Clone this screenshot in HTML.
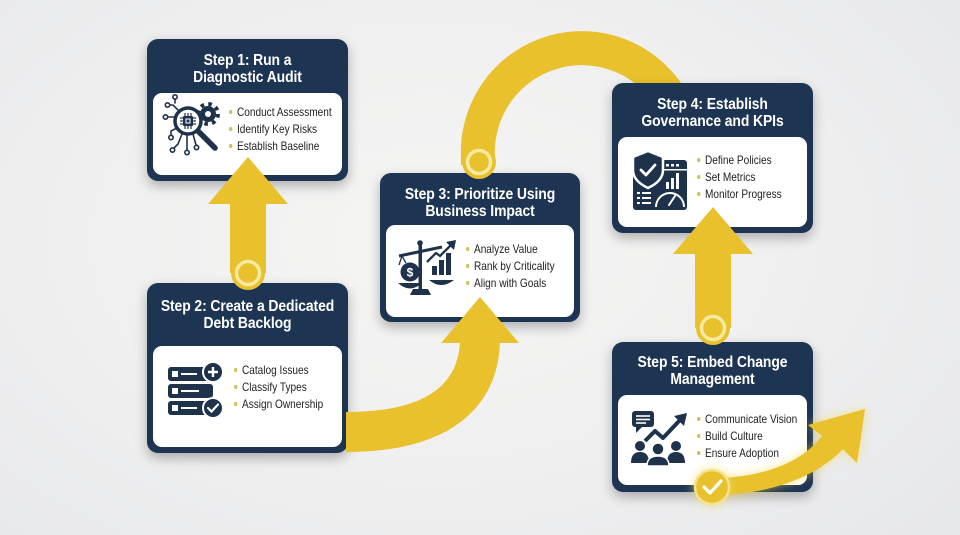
<!DOCTYPE html>
<html><head><meta charset="utf-8"><style>
html,body{margin:0;padding:0}
body{width:960px;height:535px;overflow:hidden;position:relative;font-family:"Liberation Sans",sans-serif;background:radial-gradient(ellipse 70% 80% at 45% 45%, #f5f5f4 0%, #efefef 55%, #e7e8eb 100%);}
.card{position:absolute;background:#1d3553;border-radius:11px;box-shadow:0 5px 12px rgba(0,0,0,0.28);}
.panel{position:absolute;background:#fff;border-radius:9px;}
.t{position:absolute;left:-20px;right:-20px;text-align:center;color:#fff;font-weight:bold;font-size:16px;line-height:16.5px;letter-spacing:-0.1px;transform:scaleX(0.87);transform-origin:50% 0}
.b{position:absolute;font-size:12px;color:#1e1e1e;line-height:17px;white-space:nowrap;transform:scaleX(0.84);transform-origin:0 0}
.b span{display:inline-block;width:3.5px;height:3.5px;border-radius:50%;background:#c9c45a;margin-right:6px;vertical-align:middle;position:relative;top:-1px}
svg{position:absolute;left:0;top:0}
</style></head><body>

<svg width="960" height="535" viewBox="0 0 960 535">
  <path d="M478,165 L478,158 A104,104 0 0 1 674,104" fill="none" stroke="#e8c12c" stroke-width="34"/>
</svg>

<div class="card" style="left:147px;top:39px;width:201px;height:142px">
  <div class="t" style="top:14px">Step 1: Run a<br>Diagnostic Audit</div>
</div>
<div class="panel" style="left:153px;top:93px;width:189px;height:82px"></div>
<div class="b" style="left:229px;top:104px"><span></span>Conduct Assessment<br><span></span>Identify Key Risks<br><span></span>Establish Baseline</div>

<div class="card" style="left:147px;top:283px;width:201px;height:170px">
  <div class="t" style="top:16px">Step 2: Create a Dedicated<br>Debt Backlog</div>
</div>
<div class="panel" style="left:153px;top:346px;width:189px;height:101px"></div>
<div class="b" style="left:234px;top:362px"><span></span>Catalog Issues<br><span></span>Classify Types<br><span></span>Assign Ownership</div>

<div class="card" style="left:380px;top:173px;width:200px;height:149px">
  <div class="t" style="top:14px">Step 3: Prioritize Using<br>Business Impact</div>
</div>
<div class="panel" style="left:386px;top:225px;width:188px;height:92px"></div>
<div class="b" style="left:466px;top:241px"><span></span>Analyze Value<br><span></span>Rank by Criticality<br><span></span>Align with Goals</div>

<div class="card" style="left:612px;top:83px;width:201px;height:150px">
  <div class="t" style="top:14px">Step 4: Establish<br>Governance and KPIs</div>
</div>
<div class="panel" style="left:618px;top:137px;width:189px;height:90px"></div>
<div class="b" style="left:697px;top:152px"><span></span>Define Policies<br><span></span>Set Metrics<br><span></span>Monitor Progress</div>

<div class="card" style="left:612px;top:342px;width:201px;height:150px">
  <div class="t" style="top:13px">Step 5: Embed Change<br>Management</div>
</div>
<div class="panel" style="left:618px;top:395px;width:189px;height:90px"></div>
<div class="b" style="left:697px;top:411px"><span></span>Communicate Vision<br><span></span>Build Culture<br><span></span>Ensure Adoption</div>

<svg width="960" height="535" viewBox="0 0 960 535">
  <defs>
    <filter id="glow" x="-30%" y="-30%" width="160%" height="160%"><feGaussianBlur stdDeviation="5"/></filter>
  </defs>

  <!-- arc start circle -->
  <circle cx="479" cy="162" r="17" fill="#e8c12c"/>
  <circle cx="479" cy="162" r="11.5" fill="none" stroke="#f7e9a0" stroke-width="3.5"/>

  <!-- arrow 2 -> 1 -->
  <rect x="230" y="200" width="36" height="73" fill="#e8c12c"/>
  <polygon points="208,204 248,157 288,204" fill="#e8c12c"/>
  <circle cx="248" cy="273" r="17" fill="#e8c12c"/>
  <circle cx="248" cy="273" r="11.5" fill="none" stroke="#f7e9a0" stroke-width="3.5"/>

  <!-- arrow 2 -> 3 -->
  <path d="M346,432 C425,432 480,405 480,338" fill="none" stroke="#e8c12c" stroke-width="40"/>
  <polygon points="441,343 480,297 519,343" fill="#e8c12c"/>

  <!-- arrow 5 -> 4 -->
  <rect x="695" y="250" width="36" height="78" fill="#e8c12c"/>
  <polygon points="673,254 713,207 753,254" fill="#e8c12c"/>
  <circle cx="713" cy="328" r="17" fill="#e8c12c"/>
  <circle cx="713" cy="328" r="11.5" fill="none" stroke="#f7e9a0" stroke-width="3.5"/>

  <!-- final arrow -->
  <path d="M722,478 C760,476 800,465 822,436 L808,425 L865,409 L857,463 L843,449 C815,478 770,493 722,495 Z" fill="#f3d84a" opacity="0.6" filter="url(#glow)"/>
  <path d="M722,478 C760,476 800,465 822,436 L808,425 L865,409 L857,463 L843,449 C815,478 770,493 722,495 Z" fill="#e8c12c"/>
  <circle cx="712" cy="487" r="19" fill="#f3dd6a" opacity="0.6" filter="url(#glow)"/>
  <circle cx="712" cy="487" r="17" fill="#e8c12c" stroke="#f4e38e" stroke-width="2.5"/>
  <polyline points="704,487 710,493 721,481" fill="none" stroke="#fff" stroke-width="3.2" stroke-linecap="round" stroke-linejoin="round"/>

  <!-- icon 1 -->
  <g>
    <circle cx="208" cy="114" r="10" fill="none" stroke="#1e324c" stroke-width="4" stroke-dasharray="3.6 4.25"/>
    <circle cx="208" cy="114" r="8" fill="#1e324c"/>
    <circle cx="208" cy="114" r="3" fill="#fff"/>
    <g fill="none" stroke="#1e324c" stroke-width="1.6" stroke-linecap="round">
      <polyline points="176,117 168,117"/><circle cx="165.5" cy="117" r="2.2"/>
      <polyline points="178,110 173,105 170,105"/><circle cx="167.5" cy="105" r="2.2"/>
      <polyline points="175,103 175,99"/><circle cx="175" cy="97" r="2.2"/>
      <polyline points="177,128 171,131 171,135"/><circle cx="171" cy="137.5" r="2.2"/>
      <polyline points="182,134 178,144 174,148"/><circle cx="172.5" cy="150" r="2.2"/>
      <polyline points="187,135 187,150"/><circle cx="187" cy="152.5" r="2.2"/>
      <polyline points="193,134 196,145"/><circle cx="196.5" cy="147.5" r="2.2"/>
    </g>
    <circle cx="188" cy="121" r="13" fill="#fff" stroke="#1e324c" stroke-width="3.5"/>
    <line x1="198" y1="131" x2="215" y2="148" stroke="#1e324c" stroke-width="5.5" stroke-linecap="round"/>
    <rect x="183" y="116" width="10" height="10" rx="1" fill="#1e324c"/>
    <rect x="185.5" y="118.5" width="5" height="5" fill="#fff"/>
    <rect x="186.5" y="119.5" width="3" height="3" fill="#1e324c"/>
    <g stroke="#1e324c" stroke-width="1.2">
      <line x1="185" y1="113" x2="185" y2="116"/><line x1="188" y1="113" x2="188" y2="116"/><line x1="191" y1="113" x2="191" y2="116"/>
      <line x1="185" y1="126" x2="185" y2="129"/><line x1="188" y1="126" x2="188" y2="129"/><line x1="191" y1="126" x2="191" y2="129"/>
      <line x1="180" y1="118" x2="183" y2="118"/><line x1="180" y1="121" x2="183" y2="121"/><line x1="180" y1="124" x2="183" y2="124"/>
      <line x1="193" y1="118" x2="196" y2="118"/><line x1="193" y1="121" x2="196" y2="121"/><line x1="193" y1="124" x2="196" y2="124"/>
    </g>
  </g>

  <!-- icon 2 -->
  <g>
    <rect x="168" y="367" width="42" height="14" rx="3" fill="#1e324c"/>
    <rect x="168" y="384" width="45" height="14" rx="3" fill="#1e324c"/>
    <rect x="168" y="401" width="42" height="14" rx="3" fill="#1e324c"/>
    <g fill="#fff">
      <rect x="172" y="371" width="6" height="6"/><rect x="181" y="373" width="16" height="2"/>
      <rect x="172" y="388" width="6" height="6"/><rect x="181" y="390" width="18" height="2"/>
      <rect x="172" y="405" width="6" height="6"/><rect x="181" y="407" width="16" height="2"/>
    </g>
    <circle cx="213" cy="372" r="10" fill="#1e324c" stroke="#fff" stroke-width="2"/>
    <path d="M213,367 V377 M208,372 H218" stroke="#fff" stroke-width="2.4"/>
    <circle cx="213" cy="408" r="10" fill="#1e324c" stroke="#fff" stroke-width="2"/>
    <polyline points="208,408 211.5,411.5 218,404.5" fill="none" stroke="#fff" stroke-width="2.2" stroke-linecap="round"/>
  </g>

  <!-- icon 3 -->
  <g>
    <rect x="418.5" y="244" width="3.5" height="46" fill="#1e324c"/>
    <path d="M410,295 L413,289 L428,289 L431,295 Z" fill="#1e324c"/>
    <line x1="399" y1="256" x2="442" y2="247" stroke="#1e324c" stroke-width="3"/>
    <circle cx="420" cy="243" r="2.8" fill="#1e324c"/>
    <path d="M402,256 L399,265 M402,256 L406,263" stroke="#1e324c" stroke-width="1.3" fill="none"/>
    <circle cx="410" cy="272" r="9.5" fill="#1e324c"/>
    <text x="410" y="276.5" text-anchor="middle" font-family="Liberation Sans, sans-serif" font-weight="bold" font-size="12" fill="#fff">$</text>
    <path d="M398,283 Q410,294 422,283 Z" fill="#1e324c"/>
    <rect x="432" y="266" width="5" height="9" fill="#1e324c"/>
    <rect x="439" y="260" width="5" height="15" fill="#1e324c"/>
    <rect x="446" y="253" width="5" height="22" fill="#1e324c"/>
    <path d="M429,280 Q441,290 454,280 Z" fill="#1e324c"/>
    <polyline points="427,262 436,253 440,256 451,245" fill="none" stroke="#1e324c" stroke-width="2.3"/>
    <polygon points="446,242 456,240 454,250" fill="#1e324c"/>
  </g>

  <!-- icon 4 -->
  <g>
    <rect x="633" y="160" width="54" height="50" rx="3" fill="#1e324c"/>
    <g fill="#fff">
      <rect x="666" y="164" width="3" height="2.5"/><rect x="671" y="164" width="3" height="2.5"/><rect x="676" y="164" width="3" height="2.5"/>
      <rect x="660" y="169" width="27" height="1.5"/>
      <rect x="666" y="182" width="3" height="7"/><rect x="671" y="178" width="3" height="11"/><rect x="676" y="173" width="3" height="16"/>
      <rect x="637" y="192" width="3" height="2"/><rect x="642" y="192" width="9" height="2"/>
      <rect x="637" y="197" width="3" height="2"/><rect x="642" y="197" width="9" height="2"/>
      <rect x="637" y="202" width="3" height="2"/><rect x="642" y="202" width="9" height="2"/>
    </g>
    <path d="M656,207 A14,14 0 0 1 684,207" fill="none" stroke="#fff" stroke-width="2"/>
    <line x1="669" y1="205" x2="675" y2="196" stroke="#fff" stroke-width="2" stroke-linecap="round"/>
    <path d="M648,151 L663,157 L663,170 Q663,181 648,188 Q633,181 633,170 L633,157 Z" fill="#1e324c" stroke="#fff" stroke-width="2.5"/>
    <polyline points="641,170 646,175 655,165" fill="none" stroke="#fff" stroke-width="2.8" stroke-linecap="round" stroke-linejoin="round"/>
  </g>

  <!-- icon 5 -->
  <g>
    <rect x="632" y="411" width="22" height="16" rx="3" fill="#1e324c"/>
    <polygon points="636,426 636,433 643,426" fill="#1e324c"/>
    <g stroke="#fff" stroke-width="1.6">
      <line x1="636" y1="416" x2="650" y2="416"/><line x1="636" y1="419.5" x2="650" y2="419.5"/><line x1="636" y1="423" x2="646" y2="423"/>
    </g>
    <polyline points="645,441 655,431 663,438 680,420" fill="none" stroke="#1e324c" stroke-width="4" stroke-linejoin="round"/>
    <polygon points="674,416 687,413 684,426" fill="#1e324c"/>
    <circle cx="640" cy="446" r="5" fill="#1e324c"/>
    <circle cx="676" cy="446" r="5" fill="#1e324c"/>
    <path d="M631,463 Q631,452 640,452 Q649,452 649,463 Z" fill="#1e324c"/>
    <path d="M667,463 Q667,452 676,452 Q685,452 685,463 Z" fill="#1e324c"/>
    <circle cx="658" cy="449" r="6" fill="#1e324c" stroke="#fff" stroke-width="1.5"/>
    <path d="M647,466 Q647,456 658,456 Q669,456 669,466 Z" fill="#1e324c" stroke="#fff" stroke-width="1.5"/>
  </g>
</svg>
</body></html>
